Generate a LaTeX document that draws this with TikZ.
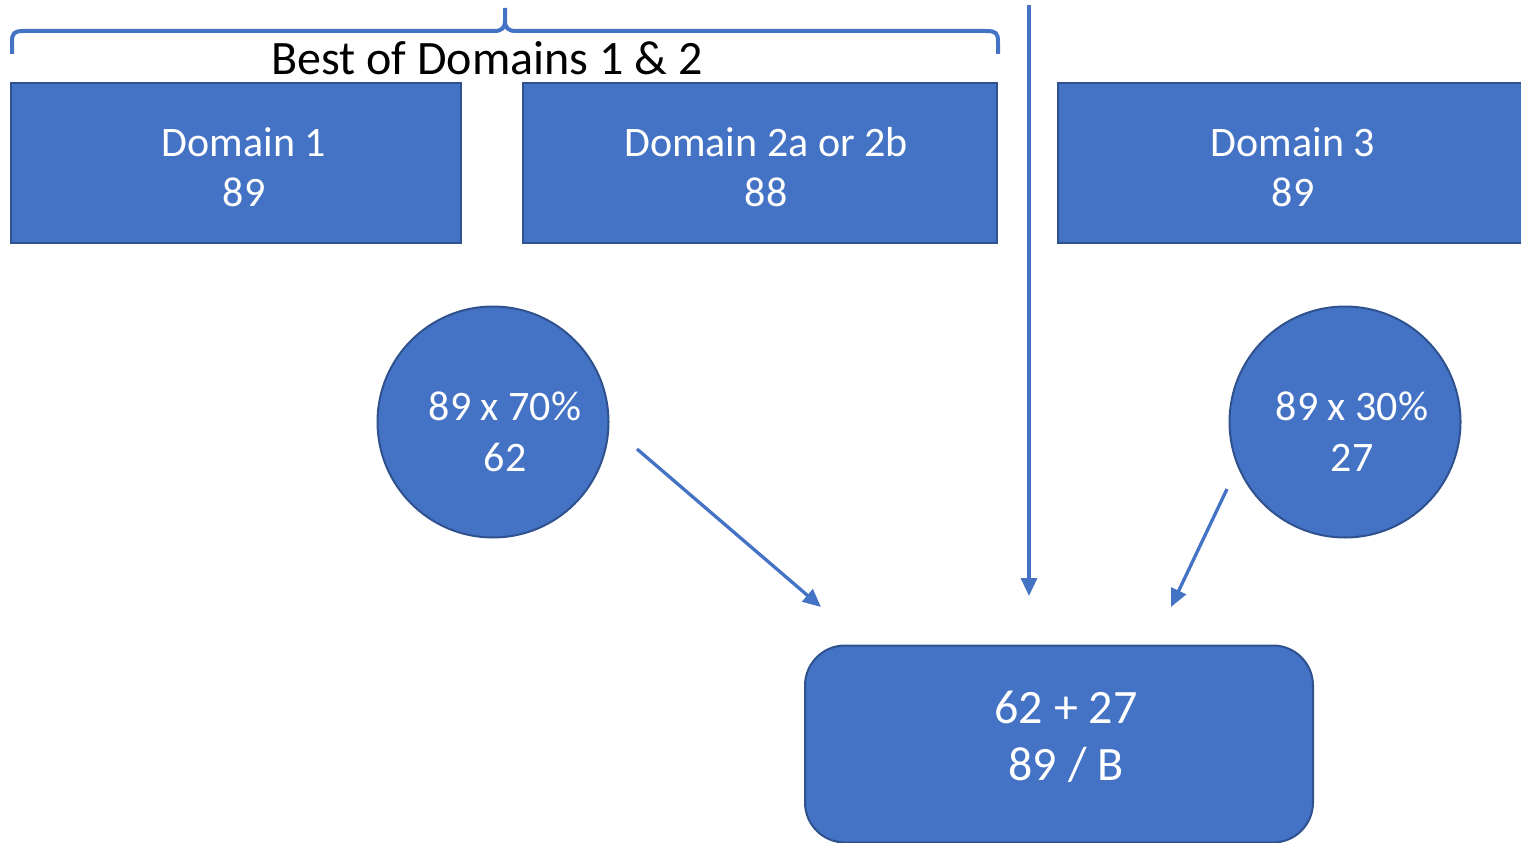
\documentclass[tikz,border=0pt]{standalone}
\usepackage{fontspec}
\setmainfont{Carlito}
\usetikzlibrary{arrows.meta}
\definecolor{accent}{HTML}{4472C4}
\definecolor{edge}{HTML}{2F528F}
\begin{document}
\begin{tikzpicture}[x=1pt,y=-1pt,
  boxstyle/.style={draw=edge,fill=accent,line width=2pt,text=white,align=center,
    inner sep=0pt,font=\fontsize{42}{50}\selectfont},
  circstyle/.style={circle,draw=edge,fill=accent,line width=2pt,inner sep=0pt,minimum size=231pt},
  whitetext/.style={text=white,align=center},
  conn/.style={draw=accent,line width=3.3pt,-{Triangle[length=18pt,width=16pt]}},
  bracestyle/.style={draw=accent,line width=4pt}]
\useasboundingbox (0,0) rectangle (1521,843);
\begin{scope}
\clip (0,0) rectangle (1521,843);
% domain boxes
\node[boxstyle,minimum width=450pt,minimum height=160pt] (d1) at (236,163) {};
\node[whitetext,font=\fontsize{42}{50}\selectfont] (d1t) at (244,167) {Domain 1\\89};
\node[boxstyle,minimum width=474pt,minimum height=160pt] (d2) at (760,163) {};
\node[whitetext,font=\fontsize{42}{50}\selectfont] (d2t) at (766,167) {Domain 2a or 2b\\88};
\node[boxstyle,minimum width=470pt,minimum height=160pt] (d3) at (1293,163) {};
\node[whitetext,font=\fontsize{42}{50}\selectfont] (d3t) at (1293,167) {Domain 3\\89};
% circles
\node[circstyle] (c1) at (493,422) {};
\node[whitetext,font=\fontsize{42}{51}\selectfont] (c1t) at (505,432) {89 x 70\%\\62};
\node[circstyle] (c2) at (1345,422) {};
\node[whitetext,font=\fontsize{42}{51}\selectfont] (c2t) at (1352,432) {89 x 30\%\\27};
% result box
\node[boxstyle,rounded corners=40pt,minimum width=508pt,minimum height=197pt] (res) at (1059,744) {};
\node[whitetext,font=\fontsize{48}{57}\selectfont] (rest) at (1066,737) {62 + 27\\89 / B};
% brace
\draw[bracestyle] (12,54) -- (12,42) .. controls (12,33) and (14,31) .. (24,31)
  -- (494,31) .. controls (502,31) and (505,28) .. (505,20) -- (505,8);
\draw[bracestyle] (505,20) .. controls (505,28) and (508,31) .. (516,31)
  -- (986,31) .. controls (996,31) and (998,33) .. (998,42) -- (998,54);
\node[font=\fontsize{48}{50}\selectfont,text=black] (lbl) at (487,58) {Best of Domains 1 \& 2};
% connectors
\coordinate (a1s) at (637,449);
\coordinate (a1e) at (821,607);
\coordinate (a2s) at (1029,5);
\coordinate (a2e) at (1029,596);
\coordinate (a3s) at (1227,489);
\coordinate (a3e) at (1171,607);
\draw[conn] (a1s) -- (a1e);
\draw[conn] (a2s) -- (a2e);
\draw[conn] (a3s) -- (a3e);
\end{scope}
\end{tikzpicture}
\end{document}
